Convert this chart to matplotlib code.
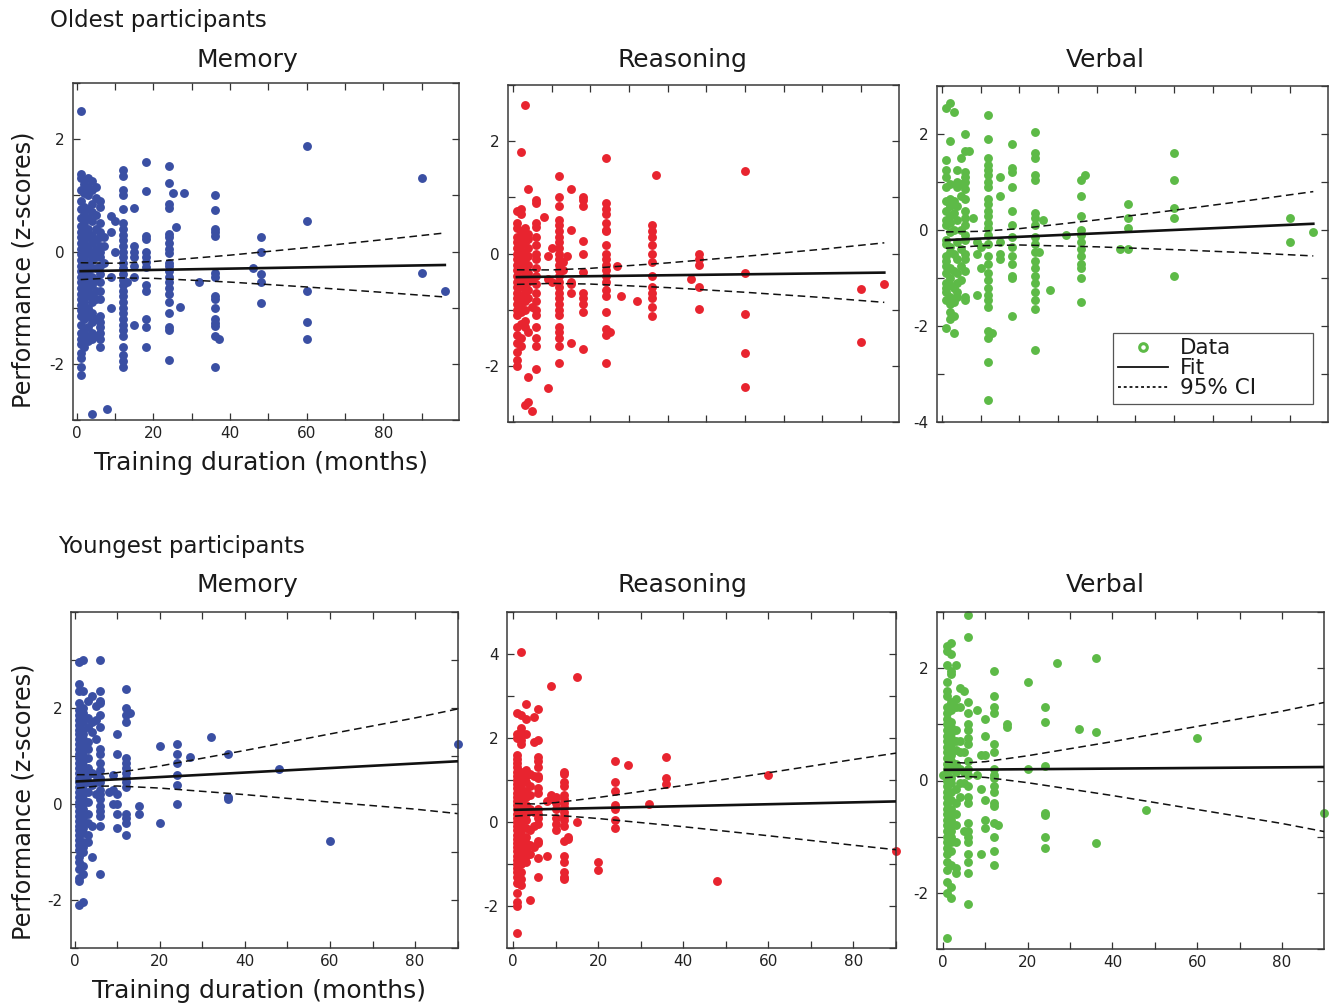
import numpy as np
import matplotlib
matplotlib.use("Agg")
import matplotlib.pyplot as plt
from matplotlib.ticker import MultipleLocator, FuncFormatter
from matplotlib.lines import Line2D

plt.rcParams['font.family'] = ['DejaVu Sans']
plt.rcParams['axes.unicode_minus'] = False

# ---------------- data ----------------
# Oldest participants - Memory
old_mem_cols = [1, 2, 3, 4, 5, 6, 7, 8, 9, 10, 12, 13, 15, 18, 24, 25, 26, 27, 28, 32, 36, 37, 46, 48, 60, 90, 96]
old_mem_vals = [
    [2.5, 1.38, 1.3, 1.1, 0.9, 0.75, 0.6, 0.45, 0.35, 0.25, 0.15, 0.05, -0.05, -0.15, -0.25, -0.35, -0.45, -0.55, -0.65, -0.75, -0.85, -0.95, -1.05, -1.15, -1.3, -1.45, -1.55, -1.65, -1.8, -1.9, -2.05, -2.2],
    [1.2, 1.05, 0.8, 0.65, 0.5, 0.3, 0.2, 0.1, 0.0, -0.1, -0.2, -0.3, -0.4, -0.5, -0.6, -0.7, -0.8, -0.9, -1.0, -1.1, -1.2, -1.4, -1.5, -1.7],
    [1.3, 1.15, 1.0, 0.75, 0.6, 0.4, 0.25, 0.1, -0.05, -0.2, -0.35, -0.5, -0.65, -0.8, -1.0, -1.15, -1.35, -1.5, -1.6],
    [1.25, 1.1, 0.85, 0.7, 0.55, 0.3, 0.15, 0.0, -0.15, -0.3, -0.45, -0.6, -0.75, -0.9, -1.1, -1.25, -1.45, -1.55, -2.9],
    [1.15, 0.95, 0.65, 0.4, 0.2, 0.05, -0.1, -0.3, -0.5, -0.7, -0.85, -1.2, -1.5],
    [0.9, 0.8, 0.5, 0.35, 0.25, 0.1, 0.0, -0.1, -0.25, -0.4, -0.55, -0.7, -0.85, -1.15, -1.25, -1.35, -1.45, -1.55, -1.7],
    [0.25, 0.1, -0.2],
    [-2.8],
    [0.63, 0.35, -0.45, -1.0],
    [0.55, 0.0],
    [1.45, 1.35, 1.1, 1.0, 0.75, 0.5, 0.4, 0.3, 0.2, 0.1, 0.0, -0.1, -0.2, -0.3, -0.4, -0.5, -0.6, -0.7, -0.8, -0.9, -1.0, -1.1, -1.2, -1.3, -1.4, -1.5, -1.7, -1.85, -1.95, -2.05],
    [-0.55],
    [0.77, 0.1, 0.0, -0.1, -0.25, -0.45, -1.3],
    [1.6, 1.07, 0.27, 0.22, 0.0, -0.1, -0.18, -0.28, -0.6, -0.7, -1.2, -1.35, -1.7],
    [1.52, 1.22, 0.85, 0.78, 0.32, 0.25, 0.15, 0.05, -0.02, -0.2, -0.25, -0.35, -0.45, -0.55, -0.65, -0.75, -0.9, -1.1, -1.35, -1.4, -1.93],
    [1.04], [0.43], [-0.98], [1.04], [-0.55],
    [1.01, 0.74, 0.4, 0.35, 0.27, -0.38, -0.45, -0.8, -0.85, -1.0, -1.2, -1.27, -1.32, -1.5, -2.05],
    [-1.55], [-0.3],
    [0.26, 0.0, -0.4, -0.55, -0.92],
    [1.88, 0.54, -0.71, -1.25, -1.56],
    [1.3, -0.39],
    [-0.71],
]
old_mem_fit_x = [1, 96]
old_mem_fit_y = [-0.35, -0.24]
old_mem_ci_x = [1, 10, 20, 40, 60, 80, 96]
old_mem_ci_half = [0.15, 0.13, 0.15, 0.24, 0.35, 0.47, 0.57]

# Oldest participants - Reasoning
old_rea_cols = [1, 2, 3, 4, 5, 6, 8, 9, 10, 12, 13, 14, 15, 18, 24, 25, 27, 28, 32, 36, 37, 46, 48, 60, 90, 96]
old_rea_vals = [
    [0.75, 0.55, 0.45, 0.3, 0.2, 0.1, 0.0, -0.1, -0.2, -0.3, -0.4, -0.5, -0.6, -0.7, -0.8, -0.9, -1.0, -1.1, -1.3, -1.45, -1.6, -1.75, -1.9, -2.0],
    [1.8, 0.8, 0.7, 0.4, 0.25, 0.15, 0.05, -0.05, -0.15, -0.3, -0.45, -0.6, -0.75, -0.9, -1.05, -1.25, -1.5, -1.65],
    [2.65, 0.45, 0.3, 0.2, 0.0, -0.1, -0.25, -0.4, -0.55, -0.7, -0.85, -1.0, -1.2, -1.3, -2.7],
    [1.15, 0.35, 0.25, 0.1, -0.05, -0.2, -0.35, -0.5, -0.65, -0.8, -1.4, -2.2, -2.65],
    [-2.8, -0.95, -0.45],
    [0.95, 0.9, 0.55, 0.48, 0.3, 0.15, 0.0, -0.1, -0.25, -0.4, -0.55, -0.7, -0.85, -1.0, -1.1, -1.3, -1.5, -1.65, -2.05],
    [0.65],
    [-0.05, -0.45, -2.4],
    [0.1, -0.5],
    [1.38, 1.0, 0.85, 0.6, 0.5, 0.4, 0.3, 0.2, 0.1, 0.0, -0.1, -0.2, -0.3, -0.4, -0.5, -0.6, -0.7, -0.8, -0.9, -1.0, -1.1, -1.3, -1.4, -1.5, -1.65, -1.95],
    [-0.15, -0.3],
    [-0.05],
    [1.15, 0.42, -0.5, -0.55, -0.7, -1.6],
    [1.0, 0.95, 0.85, 0.22, 0.0, -0.33, -0.7, -0.8, -0.9, -1.05, -1.7],
    [1.7, 0.9, 0.8, 0.7, 0.55, 0.42, 0.4, 0.15, 0.0, -0.1, -0.2, -0.3, -0.4, -0.5, -0.65, -0.75, -1.05, -1.35, -1.45, -1.95],
    [-1.4], [-0.22], [-0.75], [-0.85],
    [0.5, 0.4, 0.3, 0.15, 0.0, -0.15, -0.4, -0.6, -0.7, -0.8, -0.95, -1.12],
    [1.4], [-0.45],
    [0.0, -0.1, -0.2, -0.6, -0.98],
    [1.47, -0.35, -1.08, -1.78, -2.37],
    [-0.63, -1.58],
    [-0.55],
]
old_rea_fit_x = [1, 96]
old_rea_fit_y = [-0.42, -0.34]
old_rea_ci_x = [1, 10, 20, 40, 60, 80, 96]
old_rea_ci_half = [0.13, 0.12, 0.14, 0.22, 0.32, 0.43, 0.53]

# Oldest participants - Verbal
old_ver_cols = [1, 2, 3, 4, 5, 6, 7, 8, 9, 10, 12, 13, 15, 18, 24, 25, 26, 28, 32, 36, 37, 46, 48, 60, 90, 96]
old_ver_vals = [
    [2.55, 1.45, 1.25, 1.1, 0.9, 0.6, 0.4, 0.2, 0.1, -0.2, -0.3, -0.55, -0.65, -0.75, -0.9, -1.1, -1.2, -1.3, -1.45, -2.05],
    [2.65, 1.85, 0.95, 0.65, 0.5, 0.3, 0.15, -0.05, -0.35, -0.45, -0.8, -1.0, -1.15, -1.4, -1.55, -1.7, -1.85],
    [2.45, 0.6, 0.35, 0.0, -0.5, -0.85, -1.2, -1.5, -1.8, -2.15],
    [1.25, 1.0, 0.9, 0.5, 0.2, -0.25, -0.6, -0.9, -1.1, -1.3, -1.4],
    [1.5, 0.95, 0.7, 0.0, -0.4, -0.75, -1.05],
    [2.0, 1.65, 1.2, 1.1, 1.0, 0.85, 0.65, 0.4, 0.25, 0.1, -0.1, -0.2, -0.5, -0.6, -0.85, -1.4, -1.45],
    [1.65],
    [0.25],
    [-0.25, -0.5, -1.35],
    [-0.8, -0.35],
    [2.4, 1.9, 1.5, 1.35, 1.25, 1.15, 1.0, 0.9, 0.65, 0.55, 0.4, 0.3, 0.15, 0.05, -0.1, -0.3, -0.55, -0.7, -0.9, -1.05, -1.2, -1.35, -1.45, -1.6, -2.1, -2.25, -2.75, -3.55],
    [-2.15],
    [1.1, 0.7, -0.25, -0.5, -0.6],
    [1.8, 1.3, 1.2, 0.9, 0.4, 0.1, -0.15, -0.35, -0.55, -0.7, -0.95, -1.0, -1.8],
    [2.05, 1.6, 1.5, 1.15, 1.05, 0.35, 0.25, 0.1, -0.15, -0.3, -0.45, -0.65, -0.8, -0.95, -1.1, -1.3, -1.45, -1.65, -2.5],
    [-0.45], [0.2], [-1.25], [-0.1],
    [1.05, 0.7, 0.3, 0.0, -0.1, -0.25, -0.4, -0.55, -0.7, -0.8, -1.0, -1.5],
    [1.15], [-0.4],
    [0.55, 0.25, 0.05, -0.4],
    [1.6, 1.05, 0.45, 0.25, -0.95],
    [0.25, -0.25],
    [-0.05],
]
old_ver_fit_x = [1, 96]
old_ver_fit_y = [-0.21, 0.13]
old_ver_ci_x = [1, 10, 20, 40, 60, 80, 96]
old_ver_ci_half = [0.17, 0.15, 0.17, 0.28, 0.41, 0.55, 0.67]

# Youngest participants - Memory
young_mem_cols = [1, 2, 3, 4, 5, 6, 8, 9, 10, 12, 13, 15, 20, 24, 27, 32, 36, 48, 60, 90]
young_mem_vals = [
    [2.95, 2.5, 2.35, 2.1, 1.95, 1.85, 1.75, 1.65, 1.55, 1.45, 1.35, 1.25, 1.15, 1.05, 0.95, 0.85, 0.75, 0.65, 0.55, 0.45, 0.35, 0.25, 0.15, 0.05, -0.05, -0.15, -0.25, -0.35, -0.45, -0.55, -0.65, -0.75, -0.85, -0.95, -1.1, -1.2, -1.35, -1.55, -1.6, -2.1],
    [3.0, 2.35, 2.0, 1.9, 1.8, 1.7, 1.55, 1.45, 1.35, 1.2, 1.1, 1.0, 0.9, 0.8, 0.7, 0.6, 0.5, 0.4, 0.3, 0.2, 0.1, 0.0, -0.1, -0.2, -0.3, -0.4, -0.5, -0.6, -0.8, -0.9, -1.0, -1.3, -1.45, -2.05],
    [2.15, 1.8, 1.6, 1.3, 1.15, 0.95, 0.75, 0.6, 0.45, 0.25, 0.05, -0.2, -0.4, -0.65, -0.8],
    [2.25, 1.7, 1.5, 0.65, 0.4, -0.45, -1.1],
    [2.05, 1.75, 1.35, 0.6, 0.45, 0.2],
    [3.0, 2.35, 2.15, 2.1, 1.85, 1.6, 1.15, 1.05, 0.85, 0.7, 0.55, 0.45, 0.3, 0.2, 0.1, -0.05, -0.15, -0.25, -0.45, -1.45],
    [0.25],
    [0.6, 0.3, 0.0],
    [1.45, 1.05, 0.2, 0.0, -0.2, -0.5],
    [2.4, 2.0, 1.85, 1.7, 0.95, 0.85, 0.75, 0.65, 0.55, 0.45, 0.35, -0.2, -0.3, -0.4, -0.65],
    [1.9],
    [-0.05, -0.2],
    [1.2, -0.4],
    [1.25, 1.05, 0.85, 0.6, 0.4, 0.0],
    [0.97], [1.4],
    [1.05, 0.15, 0.1],
    [0.73], [-0.77], [1.24],
]
young_mem_fit_x = [0.5, 90]
young_mem_fit_y = [0.47, 0.89]
young_mem_ci_x = [0.5, 5, 10, 20, 40, 60, 80, 90]
young_mem_ci_half = [0.14, 0.12, 0.14, 0.23, 0.46, 0.71, 0.95, 1.09]

# Youngest participants - Reasoning
young_rea_cols = [1, 2, 3, 4, 5, 6, 8, 9, 10, 12, 13, 15, 20, 24, 27, 32, 36, 48, 60, 90]
young_rea_vals = [
    [2.6, 2.1, 2.0, 1.6, 1.5, 1.4, 1.3, 1.2, 1.1, 1.0, 0.9, 0.8, 0.7, 0.6, 0.5, 0.4, 0.3, 0.2, 0.1, 0.0, -0.1, -0.2, -0.3, -0.4, -0.5, -0.6, -0.7, -0.8, -0.9, -1.0, -1.1, -1.2, -1.3, -1.45, -1.7, -1.9, -2.0, -2.65],
    [4.05, 2.55, 2.25, 2.15, 2.05, 1.95, 1.85, 1.2, 1.1, 1.0, 0.9, 0.8, 0.7, 0.6, 0.5, 0.4, 0.3, 0.2, 0.1, 0.0, -0.1, -0.2, -0.3, -0.4, -0.5, -0.6, -0.7, -0.8, -0.9, -1.0, -1.2, -1.35, -1.5],
    [2.8, 2.45, 2.1, 1.25, 1.1, 0.95, 0.75, 0.6, 0.4, 0.2, 0.05, -0.15, -0.35, -0.5, -0.65, -0.8, -0.95],
    [1.15, 0.85, 0.65, 0.3, -0.2, -0.55, -0.75, -1.85],
    [2.5, 1.9, 1.1, 0.25, -0.1, -0.6],
    [2.7, 1.95, 1.55, 1.45, 1.3, 1.1, 1.05, 0.8, 0.7, 0.3, 0.2, 0.1, -0.05, -0.45, -0.5, -0.85, -1.3],
    [0.5, -0.8],
    [3.25, 0.65, 0.55],
    [0.6, 0.45, 0.3, 0.1, -0.05, -0.2],
    [1.2, 1.15, 0.95, 0.85, 0.65, 0.55, 0.45, 0.35, 0.25, 0.15, 0.05, -0.1, -0.45, -0.8, -0.95, -1.2, -1.3, -1.35],
    [-0.35, -0.4],
    [3.45, 0.0],
    [-0.95, -1.15],
    [1.45, 0.95, 0.75, 0.4, 0.3, 0.05, -0.15],
    [1.35], [0.42],
    [1.55, 1.05, 0.9],
    [-1.4], [1.12], [-0.7],
]
young_rea_fit_x = [0.5, 90]
young_rea_fit_y = [0.29, 0.49]
young_rea_ci_x = [0.5, 5, 10, 20, 40, 60, 80, 90]
young_rea_ci_half = [0.15, 0.13, 0.15, 0.25, 0.49, 0.75, 1.02, 1.15]

# Youngest participants - Verbal
young_ver_cols = [0, 1, 2, 3, 4, 5, 6, 8, 9, 10, 12, 13, 15, 20, 24, 27, 32, 36, 48, 60, 90]
young_ver_vals = [
    [0.1],
    [2.4, 2.3, 2.05, 1.75, 1.6, 1.5, 1.3, 1.2, 1.1, 1.0, 0.9, 0.8, 0.7, 0.6, 0.5, 0.4, 0.3, 0.2, 0.1, 0.0, -0.1, -0.2, -0.3, -0.4, -0.5, -0.6, -0.7, -0.8, -0.9, -1.0, -1.1, -1.2, -1.3, -1.45, -1.6, -1.8, -2.0, -2.8],
    [2.45, 2.25, 1.95, 1.9, 1.4, 1.25, 1.05, 0.95, 0.85, 0.75, 0.65, 0.55, 0.45, 0.35, 0.2, 0.05, -0.05, -0.2, -0.35, -0.5, -0.6, -0.7, -0.8, -0.9, -1.0, -1.1, -1.25, -1.5, -1.9, -2.1],
    [2.05, 1.45, 1.3, 0.9, 0.7, 0.55, 0.3, 0.15, -0.15, -0.4, -0.6, -0.8, -1.1, -1.55, -1.65],
    [1.65, 1.3, 0.7, 0.5, 0.2, -0.05, -0.3],
    [1.6, 0.5, 0.15, -0.05, -0.9],
    [2.95, 2.55, 1.4, 1.2, 1.0, 0.9, 0.75, 0.65, 0.35, 0.2, 0.1, -0.1, -0.3, -0.4, -0.75, -0.9, -1.0, -1.1, -1.3, -1.45, -1.65, -2.2],
    [1.25, 0.1],
    [0.45, -0.15, -1.3],
    [1.1, 0.8, 0.45, -0.35, -0.7, -0.85],
    [1.95, 1.5, 1.3, 1.2, 0.65, 0.5, 0.2, 0.1, 0.05, -0.1, -0.2, -0.4, -0.45, -0.75, -1.0, -1.25, -1.5],
    [-0.8],
    [1.0, 0.95],
    [1.75, 0.2],
    [1.3, 1.05, 0.25, -0.58, -0.62, -1.0, -1.2],
    [2.1], [0.92],
    [2.18, 0.87, -1.12],
    [-0.52], [0.76], [-0.57],
]
young_ver_fit_x = [0.5, 90]
young_ver_fit_y = [0.19, 0.24]
young_ver_ci_x = [0.5, 5, 10, 20, 40, 60, 80, 90]
young_ver_ci_half = [0.14, 0.12, 0.14, 0.24, 0.48, 0.74, 1.0, 1.15]

domain_titles = ["Memory", "Reasoning", "Verbal"]
group_titles = ["Oldest participants", "Youngest participants"]
xlabel_text = "Training duration (months)"
ylabel_text = "Performance (z-scores)"
legend_labels = ["Data", "Fit", "95% CI"]

# labelled tick values per panel
old_ylabels = [-2, 0, 2]
old_ver_ylabels = [-4, -2, 0, 2]
young_mem_ylabels = [-2, 0, 2]
young_rea_ylabels = [-2, 0, 2, 4]
young_ver_ylabels = [-2, 0, 2]
x_labels = [0, 20, 40, 60, 80]

BLUE = "#3A4FA3"
RED = "#E8242F"
GREEN = "#5DBA47"

# ---------------- figure ----------------
W, H = 1332, 1008
fig = plt.figure(figsize=(W / 100, H / 100), dpi=100)


def add_ax(l, t, r, b):
    return fig.add_axes([l / W, 1 - b / H, (r - l) / W, (b - t) / H])


def make_fmt(allowed):
    def f(v, p):
        iv = int(round(v))
        return str(iv) if (abs(v - iv) < 1e-6 and iv in allowed) else ""
    return FuncFormatter(f)


def panel(box, cols, vals, color, fit_x, fit_y, ci_x, ci_half, xlim, ylim, ylab, xlab):
    ax = add_ax(*box)
    xs = np.concatenate([np.full(len(v), c, dtype=float) for c, v in zip(cols, vals)])
    ys = np.concatenate([np.asarray(v, dtype=float) for v in vals])
    ax.plot(xs, ys, 'o', ms=6.4, mfc=color, mec='none', clip_on=False, zorder=2)
    ax.plot(fit_x, fit_y, '-', color='#111111', lw=1.9, zorder=3)
    cx = np.asarray(ci_x, dtype=float)
    fit_at = np.interp(cx, fit_x, fit_y)
    h = np.asarray(ci_half)
    ax.plot(cx, fit_at + h, color='#111111', lw=1.1, ls=(0, (5, 3)), zorder=3)
    ax.plot(cx, fit_at - h, color='#111111', lw=1.1, ls=(0, (5, 3)), zorder=3)
    ax.set_xlim(*xlim)
    ax.set_ylim(*ylim)
    ax.xaxis.set_major_locator(MultipleLocator(10))
    ax.yaxis.set_major_locator(MultipleLocator(1))
    ax.yaxis.set_major_formatter(make_fmt(ylab))
    ax.xaxis.set_major_formatter(make_fmt(xlab))
    ax.tick_params(direction='in', length=5, width=0.9, color='#333333',
                   top=True, right=True, labelsize=11, labelcolor='#222222')
    ax.tick_params(axis='y', pad=6)
    ax.tick_params(axis='x', pad=4)
    for s in ax.spines.values():
        s.set_color('#3a3a3a')
        s.set_linewidth(1.1)
    return ax


ax_om = panel((73, 83, 459, 420), old_mem_cols, old_mem_vals, BLUE,
              old_mem_fit_x, old_mem_fit_y, old_mem_ci_x, old_mem_ci_half,
              (-1, 99.7), (-3, 3), old_ylabels, x_labels)
ax_or = panel((508, 85, 899, 422), old_rea_cols, old_rea_vals, RED,
              old_rea_fit_x, old_rea_fit_y, old_rea_ci_x, old_rea_ci_half,
              (-1.3, 99.8), (-3, 3), old_ylabels, [])
ax_ov = panel((937, 86, 1328, 422), old_ver_cols, old_ver_vals, GREEN,
              old_ver_fit_x, old_ver_fit_y, old_ver_ci_x, old_ver_ci_half,
              (-1.3, 99.8), (-4, 3), old_ver_ylabels, [])
ax_ym = panel((71, 612, 458, 948), young_mem_cols, young_mem_vals, BLUE,
              young_mem_fit_x, young_mem_fit_y, young_mem_ci_x, young_mem_ci_half,
              (-0.9, 90.1), (-3, 4), young_mem_ylabels, x_labels)
ax_yr = panel((507, 612, 896, 948), young_rea_cols, young_rea_vals, RED,
              young_rea_fit_x, young_rea_fit_y, young_rea_ci_x, young_rea_ci_half,
              (-1.4, 90), (-3, 5), young_rea_ylabels, x_labels)
ax_yv = panel((937, 612, 1324, 949), young_ver_cols, young_ver_vals, GREEN,
              young_ver_fit_x, young_ver_fit_y, young_ver_ci_x, young_ver_ci_half,
              (-1.4, 89.9), (-3, 3), young_ver_ylabels, x_labels)

TXT = '#1a1a1a'
# group titles
fig.text(50 / W, 1 - 27 / H, group_titles[0], fontsize=16.5, color=TXT, va='baseline', ha='left')
fig.text(58 / W, 1 - 553 / H, group_titles[1], fontsize=16.5, color=TXT, va='baseline', ha='left')
# panel titles
for cx, name in zip([247, 682, 1105], domain_titles):
    fig.text(cx / W, 1 - 67 / H, name, fontsize=18, color=TXT, va='baseline', ha='center')
    fig.text(cx / W, 1 - 592 / H, name, fontsize=18, color=TXT, va='baseline', ha='center')
# axis labels
fig.text(261 / W, 1 - 470 / H, xlabel_text, fontsize=18, color=TXT, va='baseline', ha='center')
fig.text(259 / W, 1 - 998 / H, xlabel_text, fontsize=18, color=TXT, va='baseline', ha='center')
fig.text(24 / W, 1 - 270 / H, ylabel_text, fontsize=17.3, color=TXT, rotation=90, va='center', ha='center')
fig.text(24 / W, 1 - 802 / H, ylabel_text, fontsize=17.3, color=TXT, rotation=90, va='center', ha='center')

# legend
handles = [
    Line2D([], [], ls='none', marker='o', ms=5.5, mfc='white', mec=GREEN, mew=2.2),
    Line2D([], [], ls='-', color='#111111', lw=1.3),
    Line2D([], [], ls=(0, (1.6, 1.6)), color='#111111', lw=1.3),
]
leg = ax_ov.legend(handles, legend_labels, loc='upper left',
                   bbox_to_anchor=(1113 / W, 1 - 412 / H, 200 / W, 79 / H),
                   bbox_transform=fig.transFigure, mode='expand', borderaxespad=0,
                   fontsize=15.5, handlelength=2.3, handletextpad=0.55,
                   labelspacing=0.0, borderpad=0.25, fancybox=False, framealpha=1)
leg.get_frame().set_edgecolor('#555555')
leg.get_frame().set_linewidth(0.9)
for t in leg.get_texts():
    t.set_color(TXT)

fig.savefig("out.png", dpi=100)
